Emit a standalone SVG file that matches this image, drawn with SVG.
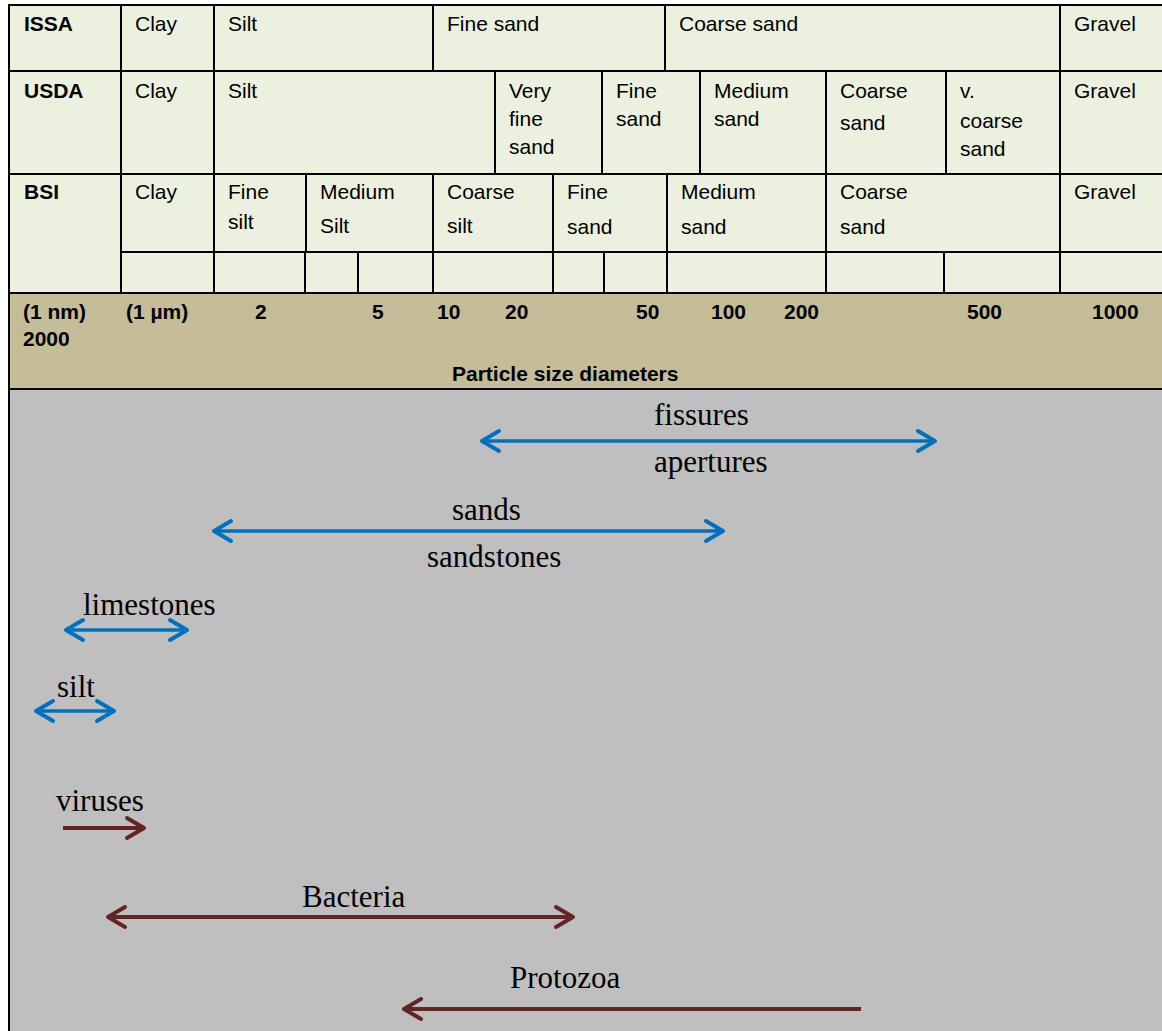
<svg xmlns="http://www.w3.org/2000/svg" width="1162" height="1031" viewBox="0 0 1162 1031">
<style>
.t{font-family:"Liberation Sans",Arial,sans-serif;font-size:21px;fill:#000}
.b{font-weight:bold}
.s{font-family:"Liberation Serif","Times New Roman",serif;font-size:31px;fill:#000}
.grid{stroke:#000;stroke-width:2;fill:none}
.blue{stroke:#0070C0;stroke-width:3.5;fill:none}
.brown{stroke:#632523;stroke-width:4;fill:none}
</style>
<defs>
<marker id="hb" markerUnits="userSpaceOnUse" markerWidth="30" markerHeight="30" viewBox="-25 -15 30 30" refX="0" refY="0" orient="auto-start-reverse" overflow="visible">
<path d="M-17,-10 L0,0 L-17,10" fill="none" stroke="#0070C0" stroke-width="4" stroke-linecap="round" stroke-linejoin="round"/>
</marker>
<marker id="hr" markerUnits="userSpaceOnUse" markerWidth="30" markerHeight="30" viewBox="-25 -15 30 30" refX="0" refY="0" orient="auto-start-reverse" overflow="visible">
<path d="M-17,-10 L0,0 L-17,10" fill="none" stroke="#632523" stroke-width="4" stroke-linecap="round" stroke-linejoin="round"/>
</marker>
</defs>
<rect x="0" y="0" width="1162" height="1031" fill="#ffffff"/>
<rect x="9" y="5" width="1153" height="288" fill="#EBF1DE"/>
<rect x="9" y="293" width="1153" height="96" fill="#C4BD97"/>
<rect x="9" y="389" width="1153" height="642" fill="#BFBFBF"/>
<g id="grid" class="grid">
<path d="M8,5H1162M8,71H1162M8,174H1162M121,252H1162M8,293H1162M8,389H1162M9,4V1031"/>
<path d="M121,5V71M214,5V71M433,5V71M665,5V71M1060,5V71"/>
<path d="M121,71V174M214,71V174M495,71V174M602,71V174M700,71V174M826,71V174M946,71V174M1060,71V174"/>
<path d="M121,174V252M214,174V252M306,174V252M433,174V252M553,174V252M667,174V252M826,174V252M1060,174V252"/>
<path d="M121,252V293M214,252V293M305,252V293M358,252V293M433,252V293M553,252V293M604,252V293M667,252V293M826,252V293M944,252V293M1060,252V293"/>
</g>
<g id="row-issa" class="t">
<text x="24" y="31" class="b">ISSA</text>
<text x="135" y="31">Clay</text>
<text x="228" y="31">Silt</text>
<text x="447" y="31">Fine sand</text>
<text x="679" y="31">Coarse sand</text>
<text x="1074" y="31">Gravel</text>
</g>
<g id="row-usda" class="t">
<text x="24" y="97.5" class="b">USDA</text>
<text x="135" y="97.5">Clay</text>
<text x="228" y="97.5">Silt</text>
<text x="509" y="97.5">Very</text>
<text x="509" y="125.5">fine</text>
<text x="509" y="153.5">sand</text>
<text x="616" y="97.5">Fine</text>
<text x="616" y="125.5">sand</text>
<text x="714" y="97.5">Medium</text>
<text x="714" y="125.5">sand</text>
<text x="840" y="97.5">Coarse</text>
<text x="840" y="129.5">sand</text>
<text x="960" y="97.5">v.</text>
<text x="960" y="127.5">coarse</text>
<text x="960" y="156">sand</text>
<text x="1074" y="97.5">Gravel</text>
</g>
<g id="row-bsi" class="t">
<text x="24" y="199" class="b">BSI</text>
<text x="135" y="199">Clay</text>
<text x="228" y="199">Fine</text>
<text x="228" y="229">silt</text>
<text x="320" y="199">Medium</text>
<text x="320" y="233">Silt</text>
<text x="447" y="199">Coarse</text>
<text x="447" y="233">silt</text>
<text x="567" y="199">Fine</text>
<text x="567" y="234">sand</text>
<text x="681" y="199">Medium</text>
<text x="681" y="234">sand</text>
<text x="840" y="199">Coarse</text>
<text x="840" y="234">sand</text>
<text x="1074" y="199">Gravel</text>
</g>
<g id="scale" class="t b">
<text x="23" y="319">(1 nm)</text>
<text x="23" y="346">2000</text>
<text x="126" y="319">(1 µm)</text>
<text x="255" y="319">2</text>
<text x="372" y="319">5</text>
<text x="437" y="319">10</text>
<text x="505" y="319">20</text>
<text x="636" y="319">50</text>
<text x="711" y="319">100</text>
<text x="784" y="319">200</text>
<text x="967" y="319">500</text>
<text x="1092" y="319">1000</text>
<text x="452" y="381">Particle size diameters</text>
</g>
<g id="connectors">
<line class="blue" x1="482" y1="441" x2="935" y2="441" marker-start="url(#hb)" marker-end="url(#hb)"/>
<line class="blue" x1="214" y1="531" x2="723" y2="531" marker-start="url(#hb)" marker-end="url(#hb)"/>
<line class="blue" x1="66" y1="630" x2="187" y2="630" marker-start="url(#hb)" marker-end="url(#hb)"/>
<line class="blue" x1="36" y1="711" x2="114" y2="711" marker-start="url(#hb)" marker-end="url(#hb)"/>
<line class="brown" x1="63" y1="828" x2="144" y2="828" marker-end="url(#hr)"/>
<line class="brown" x1="108" y1="917" x2="573" y2="917" marker-start="url(#hr)" marker-end="url(#hr)"/>
<line class="brown" x1="861" y1="1009" x2="404" y2="1009" marker-end="url(#hr)"/>
</g>
<g id="label-fissures" class="s">
<text x="654" y="425">fissures</text>
<text x="654" y="472">apertures</text>
</g>
<g id="label-sands" class="s">
<text x="452" y="520">sands</text>
<text x="427" y="567">sandstones</text>
</g>
<g id="label-limestones" class="s"><text x="83" y="615">limestones</text></g>
<g id="label-silt" class="s"><text x="57" y="697">silt</text></g>
<g id="label-viruses" class="s"><text x="56" y="811">viruses</text></g>
<g id="label-bacteria" class="s"><text x="302" y="907">Bacteria</text></g>
<g id="label-protozoa" class="s"><text x="510" y="988">Protozoa</text></g>
</svg>
